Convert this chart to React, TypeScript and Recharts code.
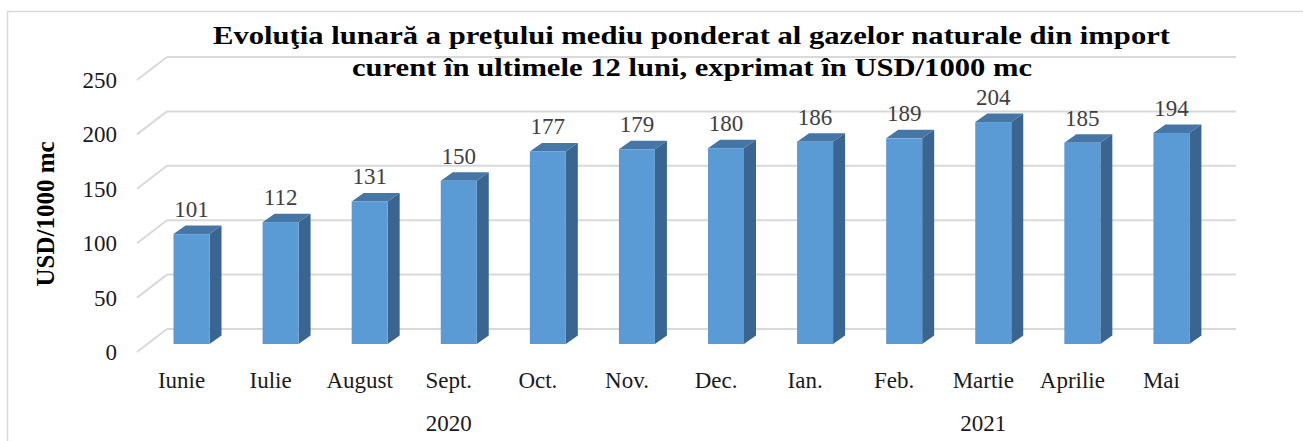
import { BarChart, Bar, XAxis, YAxis, CartesianGrid, LabelList } from 'recharts'

const months = ['Iunie', 'Iulie', 'August', 'Sept.', 'Oct.', 'Nov.', 'Dec.', 'Ian.', 'Feb.', 'Martie', 'Aprilie', 'Mai']
const prices = [101, 112, 131, 150, 177, 179, 180, 186, 189, 204, 185, 194]
const years = ['2020', '2021']
const yearSpan = [7, 5]
const yTicks = [0, 50, 100, 150, 200, 250]

const data = months.map((m, i) => ({ month: m, price: prices[i] }))

// index of the middle month of each year group
const yearAt: Record<number, string> = {}
let start = 0
years.forEach((y, i) => {
  yearAt[start + (yearSpan[i] - 1) / 2] = y
  start += yearSpan[i]
})

const FONT = '"Liberation Serif", "Times New Roman", serif'
const GRID = '#D9D9D9'
// oblique 3d offsets, relative to the plane of the bars' front faces
const FRONT = { dx: -9.5, dy: 8 }
const BACK = { dx: 20.5, dy: -15 }
const DEPTH = { dx: 12, dy: -8.5 }

function GridLine(props: any) {
  const { x1, x2, y1 } = props
  return (
    <g>
      <line x1={x1 + BACK.dx} y1={y1 + BACK.dy} x2={x2 + BACK.dx} y2={y1 + BACK.dy} stroke={GRID} strokeWidth={2} />
      <line x1={x1 + FRONT.dx} y1={y1 + FRONT.dy} x2={x1 + BACK.dx} y2={y1 + BACK.dy} stroke={GRID} strokeWidth={2} />
    </g>
  )
}

function Bar3D(props: any) {
  const { x, y, width: w, height: h } = props
  const { dx, dy } = DEPTH
  return (
    <g>
      <polygon points={`${x},${y} ${x + dx},${y + dy} ${x + w + dx},${y + dy} ${x + w},${y}`} fill="#4676A6" />
      <polygon points={`${x + w},${y} ${x + w + dx},${y + dy} ${x + w + dx},${y + h + dy} ${x + w},${y + h}`} fill="#3A6591" />
      <rect x={x} y={y} width={w} height={h} fill="#5B9BD5" />
    </g>
  )
}

function MonthTick(props: any) {
  const { x, y, payload, index } = props
  return (
    <g fontFamily={FONT} fontSize={23} fill="#1a1a1a">
      <text x={x + FRONT.dx} y={y + 44} textAnchor="middle">{payload.value}</text>
      {yearAt[index] && (
        <text x={x + FRONT.dx} y={y + 87} textAnchor="middle">{yearAt[index]}</text>
      )}
    </g>
  )
}

function ValueTick(props: any) {
  const { x, y, payload } = props
  return (
    <text x={x} y={y + FRONT.dy} dy="0.35em" textAnchor="end" fontFamily={FONT} fontSize={23} fill="#1a1a1a">
      {payload.value}
    </text>
  )
}

function ValueLabel(props: any) {
  const { x, y, width, value } = props
  return (
    <text x={x + width / 2} y={y - 17} textAnchor="middle" fontFamily={FONT} fontSize={23} fill="#404040">
      {value}
    </text>
  )
}

function AxisTitle(props: any) {
  const vb = props.viewBox
  const cy = vb.y + vb.height / 2 + 6
  const cx = 54
  return (
    <text x={cx} y={cy} transform={`rotate(-90, ${cx}, ${cy})`} textAnchor="middle" fontFamily={FONT} fontWeight="bold" fontSize={25} fill="#000">
      USD/1000 mc
    </text>
  )
}

export default function App() {
  return (
    <div style={{ position: 'absolute', left: 0, top: 0, width: 1303, height: 441, background: '#fff', overflow: 'hidden' }}>
      <svg width={1303} height={441} style={{ position: 'absolute', left: 0, top: 0 }}>
        <rect x={7.5} y={11.5} width={1310} height={450} fill="none" stroke={GRID} strokeWidth={1.5} />
        <g fontFamily={FONT} fontWeight="bold" fontSize={26} fill="#000" textAnchor="middle">
          <text x={691.5} y={44} textLength={957} lengthAdjust="spacingAndGlyphs">
            Evoluţia lunară a preţului mediu ponderat al gazelor naturale din import
          </text>
          <text x={692} y={76} textLength={680} lengthAdjust="spacingAndGlyphs">
            curent în ultimele 12 luni, exprimat în USD/1000 mc
          </text>
        </g>
      </svg>
      <div style={{ position: 'absolute', left: 0, top: 0 }}>
        <BarChart width={1303} height={441} data={data} margin={{ top: 72, right: 87.5, bottom: 37, left: 86.5 }}>
          <CartesianGrid vertical={false} horizontal={(p: any) => <GridLine key={p.key ?? p.y1} {...p} />} />
          <XAxis dataKey="month" axisLine={false} tickLine={false} tickSize={0} tickMargin={0} height={60} interval={0} tick={MonthTick} />
          <YAxis
            domain={[0, 250]}
            ticks={yTicks}
            axisLine={false}
            tickLine={false}
            tickSize={0}
            tickMargin={29.5}
            width={60}
            tick={ValueTick}
            label={{ content: AxisTitle }}
          />
          <Bar dataKey="price" barSize={36} shape={Bar3D} isAnimationActive={false}>
            <LabelList dataKey="price" content={ValueLabel} />
          </Bar>
        </BarChart>
      </div>
    </div>
  )
}
